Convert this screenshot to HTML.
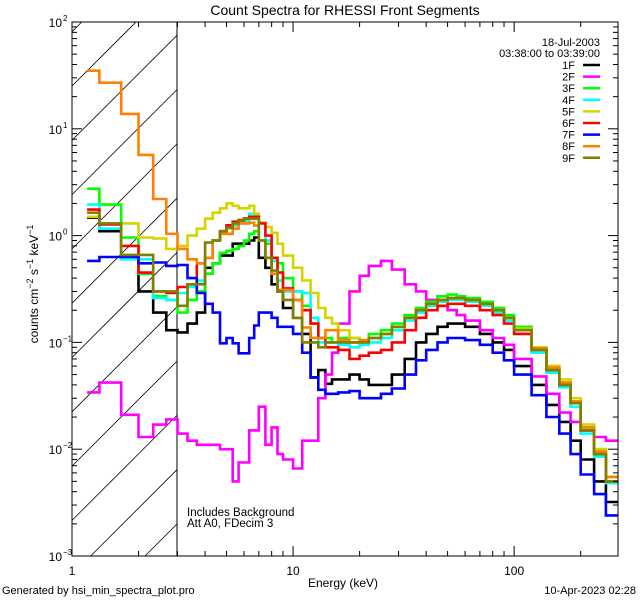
<!DOCTYPE html>
<html><head><meta charset="utf-8"><style>
html,body{margin:0;padding:0;background:#fff;width:640px;height:600px;overflow:hidden}
svg{display:block;font-family:"Liberation Sans",sans-serif;overflow:hidden}
</style></head><body>
<svg id="chart" width="640" height="600" viewBox="0 0 640 600" xmlns="http://www.w3.org/2000/svg">
<rect x="0" y="0" width="640" height="600" fill="#fff"/>
<defs><clipPath id="pclip"><rect x="72" y="22" width="546" height="534"/></clipPath></defs>
<text x="345" y="15" font-size="14" text-anchor="middle">Count Spectra for RHESSI Front Segments</text>
<g id="hatch"></g>
<line x1="177" y1="22" x2="177" y2="556" stroke="#000" stroke-width="1"/>
<g id="series" clip-path="url(#pclip)"></g>
<rect x="72" y="22" width="546" height="534" fill="none" stroke="#000" stroke-width="1"/>
<g id="axes"></g>
<text transform="translate(38,284) rotate(-90)" font-size="12" text-anchor="middle">counts cm<tspan dy="-5" font-size="9">−2</tspan><tspan dy="5"> s</tspan><tspan dy="-5" font-size="9">−1</tspan><tspan dy="5"> keV</tspan><tspan dy="-5" font-size="9">−1</tspan></text>
<text x="343" y="587" font-size="12" text-anchor="middle">Energy (keV)</text>
<text x="2" y="594" font-size="11">Generated by hsi_min_spectra_plot.pro</text>
<text x="636" y="594" font-size="11" text-anchor="end">10-Apr-2023 02:28</text>
<text x="187" y="516" font-size="11.5">Includes Background</text>
<text x="187" y="527" font-size="11.5">Att A0, FDecim 3</text>
<text x="600" y="46" font-size="11" text-anchor="end">18-Jul-2003</text>
<text x="600" y="57" font-size="11" text-anchor="end">03:38:00 to 03:39:00</text>
<g id="legend"></g>
</svg>
<script>
const edges=[1.17,1.33,1.67,2.0,2.33,2.67,3.0,3.33,3.67,4.0,4.33,4.67,5.0,5.33,5.67,6.0,6.33,6.67,7.0,7.5,8,8.5,9,10,11,12,13,14,15,16,18,20,22,25,28,32,36,40,45,50,55,60,70,80,90,100,120,140,160,180,200,230,260,300];
const names=["1F","2F","3F","4F","5F","6F","7F","8F","9F"];
const colors=["#000000","#ff00ff","#00ff00","#00ffff","#d4d400","#ff0000","#0000ff","#ff8000","#808000"];
const s1F=[1.47,1.1,0.65,0.3,0.19,0.13,0.124,0.15,0.19,0.5,0.55,0.65,0.65,0.84,0.84,0.84,0.9,0.96,0.62,0.5,0.35,0.3,0.21,0.17,0.12,0.047,0.055,0.041,0.045,0.045,0.05,0.045,0.04,0.04,0.05,0.07,0.1,0.12,0.14,0.15,0.15,0.14,0.12,0.1,0.085,0.06,0.04,0.026,0.018,0.012,0.008,0.005,0.0032];
const s2F=[0.034,0.042,0.021,0.013,0.017,0.019,0.014,0.012,0.011,0.011,0.011,0.01,0.01,0.005,0.0075,0.0075,0.015,0.015,0.025,0.011,0.016,0.009,0.008,0.0066,0.012,0.012,0.03,0.05,0.08,0.15,0.3,0.42,0.52,0.58,0.48,0.35,0.3,0.25,0.22,0.2,0.18,0.16,0.13,0.11,0.095,0.07,0.048,0.033,0.022,0.018,0.015,0.013,0.012];
const s3F=[2.75,1.95,0.96,0.44,0.27,0.25,0.19,0.25,0.3,0.44,0.55,0.69,0.72,0.75,0.8,0.9,1.04,1.1,0.9,0.84,0.62,0.55,0.4,0.3,0.22,0.15,0.11,0.11,0.1,0.11,0.11,0.1,0.12,0.13,0.15,0.18,0.21,0.24,0.27,0.28,0.27,0.26,0.24,0.21,0.18,0.14,0.09,0.06,0.042,0.028,0.016,0.01,0.0055];
const s4F=[1.95,1.16,0.6,0.6,0.26,0.25,0.29,0.33,0.38,0.62,0.9,1.1,1.18,1.24,1.3,1.38,1.6,1.54,1.32,0.9,0.58,0.38,0.3,0.3,0.29,0.17,0.1,0.1,0.1,0.095,0.09,0.095,0.1,0.11,0.13,0.16,0.19,0.22,0.24,0.25,0.25,0.24,0.22,0.19,0.16,0.12,0.08,0.052,0.038,0.025,0.014,0.0085,0.0048];
const s5F=[1.5,1.3,1.3,0.96,0.94,0.75,0.8,1.0,1.16,1.44,1.64,1.8,2.0,1.9,1.8,1.8,1.9,1.6,1.32,1.2,1.06,0.84,0.65,0.5,0.38,0.29,0.21,0.17,0.15,0.13,0.11,0.1,0.11,0.12,0.14,0.17,0.2,0.23,0.25,0.26,0.26,0.25,0.23,0.2,0.17,0.135,0.09,0.06,0.045,0.03,0.017,0.01,0.0055];
const s6F=[1.75,1.27,0.8,0.45,0.3,0.29,0.33,0.35,0.55,0.62,0.9,1.1,1.25,1.35,1.4,1.45,1.5,1.5,1.3,1.0,0.62,0.45,0.32,0.25,0.2,0.15,0.11,0.09,0.09,0.085,0.07,0.075,0.08,0.085,0.1,0.13,0.17,0.2,0.22,0.23,0.23,0.22,0.2,0.18,0.15,0.12,0.085,0.055,0.04,0.027,0.015,0.009,0.005];
const s7F=[0.58,0.63,0.63,0.55,0.56,0.52,0.53,0.4,0.29,0.23,0.19,0.098,0.11,0.098,0.079,0.079,0.11,0.144,0.19,0.19,0.17,0.14,0.14,0.12,0.08,0.047,0.036,0.033,0.033,0.034,0.035,0.03,0.03,0.033,0.037,0.05,0.068,0.085,0.1,0.11,0.11,0.105,0.095,0.08,0.068,0.05,0.032,0.02,0.014,0.009,0.0058,0.0038,0.0024];
const s8F=[35,27,13.8,5.7,2.2,1.04,0.75,0.6,0.55,0.62,0.9,1.04,1.04,1.16,1.3,1.3,1.32,1.24,0.9,0.62,0.44,0.31,0.31,0.25,0.138,0.11,0.11,0.13,0.13,0.105,0.1,0.105,0.11,0.12,0.14,0.17,0.2,0.23,0.25,0.26,0.26,0.25,0.23,0.2,0.17,0.13,0.088,0.058,0.042,0.028,0.016,0.0095,0.0055];
const s9F=[1.64,1.3,0.66,0.66,0.3,0.3,0.22,0.35,0.35,0.86,0.9,1.1,1.18,1.3,1.38,1.44,1.44,1.44,0.9,0.62,0.47,0.3,0.25,0.17,0.1,0.1,0.09,0.1,0.1,0.1,0.1,0.1,0.11,0.12,0.14,0.17,0.2,0.23,0.25,0.26,0.26,0.25,0.23,0.2,0.17,0.13,0.085,0.055,0.04,0.027,0.015,0.009,0.005];
const allSeries=[s1F,s2F,s3F,s4F,s5F,s6F,s7F,s8F,s9F];
const xTickVals=[1,10,100];
const xTickLabels=["1","10","100"];
const yTickExps=[2,1,0,-1,-2,-3];

const X0=72,X1=618,Y0=22,Y1=556;
const xmin=0,xmax=Math.log10(295);
const ymin=-3,ymax=2;
function xs(e){return X0+(Math.log10(e)-xmin)/(xmax-xmin)*(X1-X0);}
function ys(v){return Y1-(Math.log10(v)-ymin)/(ymax-ymin)*(Y1-Y0);}
const NS="http://www.w3.org/2000/svg";
function mk(tag,attrs,parent){const el=document.createElementNS(NS,tag);for(const k in attrs)el.setAttribute(k,attrs[k]);parent.appendChild(el);return el;}

// hatch (clipped manually to region x 72..177, y 22..556)
const hatch=document.getElementById('hatch');
for(let c=86-54.3*2;c<700;c+=54.3){
  const xa=Math.max(72,72+c-556), xb=Math.min(177,72+c-22);
  if(xb<=xa)continue;
  const l=mk('line',{x1:xa,y1:c-(xa-72),x2:xb,y2:c-(xb-72),stroke:'#000','stroke-width':0.8},hatch);
  
  
}

// series
const sg=document.getElementById('series');
allSeries.forEach((vals,i)=>{
  let d='';
  for(let b=0;b<vals.length;b++){
    const xa=xs(edges[b]),xb=Math.min(xs(edges[b+1]),X1),y=ys(vals[b]);
    d+=(b===0?'M':'L')+xa.toFixed(1)+','+y.toFixed(1)+'L'+xb.toFixed(1)+','+y.toFixed(1);
  }
  const p=mk('path',{d:d,fill:'none',stroke:colors[i],'stroke-width':2.6,'stroke-linejoin':'miter'},sg);
  
  
});

// axes
const ax=document.getElementById('axes');
for(let dec=0;dec<3;dec++){
  for(let m=1;m<10;m++){
    const e=m*Math.pow(10,dec);
    if(e>295)break;
    const x=xs(e);const len=(m===1)?10:5;
    const t1=mk('line',{x1:x,y1:Y1,x2:x,y2:Y1-len,stroke:'#000'},ax);
    
    
    const t2=mk('line',{x1:x,y1:Y0,x2:x,y2:Y0+len,stroke:'#000'},ax);
    
    
  }
}
xTickVals.forEach((v,i)=>{
  const t=mk('text',{x:xs(v),y:575,'font-size':12,'text-anchor':'middle'},ax);
  t.textContent=xTickLabels[i];
  
  
});
for(let ex=-3;ex<2;ex++){
  for(let m=1;m<10;m++){
    const v=m*Math.pow(10,ex);const y=ys(v);const len=(m===1)?10:5;
    const t1=mk('line',{x1:X0,y1:y,x2:X0+len,y2:y,stroke:'#000'},ax);
    
    
    const t2=mk('line',{x1:X1,y1:y,x2:X1-len,y2:y,stroke:'#000'},ax);
    
    
  }
}
yTickExps.forEach(ex=>{
  const y=ys(Math.pow(10,ex));
  const t=mk('text',{x:62,y:y+5,'font-size':12,'text-anchor':'end'},ax);
  t.textContent='10';
  
  
  const s=mk('text',{x:63,y:y-1,'font-size':8},ax);
  s.textContent=(ex<0?'−':'')+Math.abs(ex);
  
  
});

// legend
const lg=document.getElementById('legend');
names.forEach((n,i)=>{
  const y=65+i*11.6;
  const g=mk('g',{},lg);
  
  
  const t=mk('text',{x:575,y:y+4,'font-size':11,'text-anchor':'end'},g);
  t.textContent=n;
  
  
  const l=mk('line',{x1:583,y1:y,x2:600,y2:y,stroke:colors[i],'stroke-width':2.5},g);
  
  
});
</script>
</body></html>
